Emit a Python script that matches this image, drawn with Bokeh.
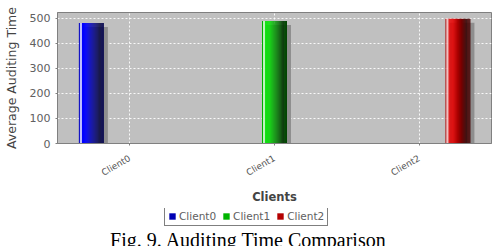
from bokeh.plotting import figure
from bokeh.layouts import column
from bokeh.models import (ColumnDataSource, Range1d, FixedTicker, Legend, LegendItem, Label)
from bokeh.embed import file_html
from bokeh.resources import INLINE
import math

# ---- data ----
categories = ["Client0", "Client1", "Client2"]
series_names = ["Client0", "Client1", "Client2"]
client0_values = [480, 0, 0]
client1_values = [0, 488, 0]
client2_values = [0, 0, 497]
y_ticks = [0, 100, 200, 300, 400, 500]
caption = "Fig. 9. Auditing Time Comparison"

series_values = [client0_values, client1_values, client2_values]
base_colors = [(0, 0, 255), (0, 230, 0), (235, 0, 0)]
legend_colors = ["#0000b4", "#00b400", "#b40000"]

# ---- style ----
bar_w = 0.172
offsets = [-0.266, 0.0, 0.268]
N = 24

def shade(base, t):
    r, g, b = base
    def mix(f, w=0.0):
        return "#%02x%02x%02x" % tuple(int(min(255, c * f + 255 * w)) for c in (r, g, b))
    if t < 0.06:
        return mix(0.75)
    if t < 0.14:
        return mix(0.25, 0.75)
    if t < 0.30:
        return mix(1.0)
    if t < 0.88:
        f = 1.0 - (t - 0.30) / 0.58 * 0.82
        return mix(f)
    return mix(0.3)

xs, tops, cols, sx, stop = [], [], [], [], []
for si, vals in enumerate(series_values):
    for ci, v in enumerate(vals):
        if v <= 0:
            continue
        center = ci + offsets[si]
        sx.append(center + 0.028)
        stop.append(v - 16)
        for k in range(N):
            t = (k + 0.5) / N
            xs.append(center - bar_w / 2 + t * bar_w)
            tops.append(v)
            cols.append(shade(base_colors[si], t))

TOP_H = 208
p = figure(width=495, height=TOP_H, output_backend="svg", toolbar_location=None,
           x_range=Range1d(-0.5, 2.5), y_range=Range1d(0, 522),
           min_border_left=55, min_border_right=4, min_border_top=12,
           min_border_bottom=TOP_H - 143)
p.background_fill_color = "#c0c0c0"
p.border_fill_color = "white"
p.outline_line_color = "#808080"

p.vbar(x="x", top="top", bottom=-20, width=bar_w, source=ColumnDataSource(dict(x=sx, top=stop)),
       fill_color="#8e8e8e", line_color=None)
p.vbar(x="x", top="top", bottom=0, width=bar_w / N * 1.1,
       source=ColumnDataSource(dict(x=xs, top=tops, c=cols)), fill_color="c", line_color=None)

# axes
p.xaxis.ticker = FixedTicker(ticks=[0, 1, 2])
p.xaxis.major_label_overrides = {i: c for i, c in enumerate(categories)}
p.xaxis.major_label_orientation = math.pi / 6
p.xaxis.major_label_text_font = "DejaVu Sans"
p.xaxis.major_label_text_font_size = "9px"
p.xaxis.major_label_text_color = "#555555"
p.xaxis.major_label_standoff = 12
p.xaxis.axis_label = "Clients"
p.xaxis.axis_label_text_font = "DejaVu Sans"
p.xaxis.axis_label_text_font_size = "11.5px"
p.xaxis.axis_label_text_font_style = "bold"
p.xaxis.axis_label_text_color = "#444444"
p.xaxis.axis_label_standoff = 5

p.yaxis.ticker = FixedTicker(ticks=y_ticks)
p.yaxis.major_label_text_font = "DejaVu Sans"
p.yaxis.major_label_text_font_size = "11px"
p.yaxis.major_label_text_color = "#606060"
p.yaxis.major_label_standoff = 5
p.yaxis.axis_label = "Average Auditing Time"
p.yaxis.axis_label_text_font = "DejaVu Sans"
p.yaxis.axis_label_text_font_size = "12.5px"
p.yaxis.axis_label_text_font_style = "normal"
p.yaxis.axis_label_text_color = "#444444"
p.yaxis.axis_label_standoff = 8

for ax in (p.xaxis, p.yaxis):
    ax.axis_line_color = "#808080"
    ax.major_tick_line_color = "#808080"
    ax.major_tick_out = 2
    ax.major_tick_in = 0
    ax.minor_tick_line_color = None

p.grid.grid_line_color = "white"
p.grid.grid_line_dash = "2 2"
p.grid.grid_line_alpha = 0.9

# ---- bottom strip: legend + caption (frame aligned with the plot's frame: 55..491 px) ----
BOT_H = 246 - TOP_H
q = figure(width=495, height=BOT_H, output_backend="svg", toolbar_location=None,
           x_range=Range1d(55, 491), y_range=Range1d(0, BOT_H),
           x_axis_location=None, y_axis_location=None, min_border=0,
           min_border_left=55, min_border_right=4)
q.outline_line_color = None
q.background_fill_color = "white"
q.border_fill_color = "white"
q.grid.visible = False

items = []
for name, c in zip(series_names, legend_colors):
    r = q.vbar(x=[0], top=[0], bottom=[0], width=0, fill_color=c, line_color=None)
    items.append(LegendItem(label=name, renderers=[r]))
legend = Legend(items=items, orientation="horizontal", location=(107, 20),
                label_text_font="DejaVu Sans", label_text_font_size="10.5px",
                label_text_color="#606060", glyph_width=8, glyph_height=8,
                label_standoff=3, spacing=6, padding=3, margin=0,
                border_line_color="black", border_line_width=1,
                background_fill_color="white", background_fill_alpha=1.0,
                label_height=10)
q.add_layout(legend, "center")

q.add_layout(Label(x=247, y=7, text=caption, text_font="Liberation Serif",
                   text_font_size="20px", text_color="black",
                   text_align="center", text_baseline="alphabetic"))

layout = column(p, q, spacing=0)
open("out.html", "w").write(file_html(layout, INLINE))
